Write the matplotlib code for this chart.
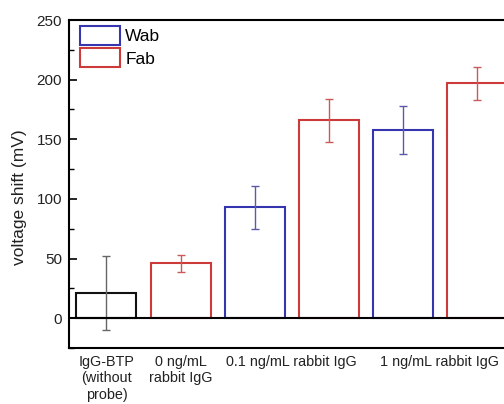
import matplotlib
matplotlib.use("Agg")
import matplotlib.pyplot as plt
from matplotlib.patches import Patch
from matplotlib.ticker import MultipleLocator

plt.rcParams['font.family'] = ['Liberation Sans', 'DejaVu Sans']

# data
bar_values = [21, 46, 93, 166, 158, 197]
bar_errors = [31, 7, 18, 18, 20, 14]
bar_kinds = ['control', 'Fab', 'Wab', 'Fab', 'Wab', 'Fab']
group_labels = ['IgG-BTP\n(without\nprobe)', '0 ng/mL\nrabbit IgG',
                '0.1 ng/mL rabbit IgG', '1 ng/mL rabbit IgG']
group_positions = [0, 1, 2.5, 4.5]
legend_labels = ['Wab', 'Fab']

edge_colors = {'control': '#111111', 'Wab': '#3535b0', 'Fab': '#cc3a3a'}
err_colors = {'control': '#666666', 'Wab': '#5a5aa8', 'Fab': '#c85a5a'}

fig = plt.figure(figsize=(5.04, 4.04), dpi=100)
ax = fig.add_axes([69/504, 56/404, (514-69)/504, (348-20)/404])

x = list(range(len(bar_values)))
for xi, v, e, k in zip(x, bar_values, bar_errors, bar_kinds):
    ax.bar(xi, v, width=0.81, facecolor='white', edgecolor=edge_colors[k],
           linewidth=1.5, zorder=2)
    ax.errorbar(xi, v, yerr=e, fmt='none', ecolor=err_colors[k],
                elinewidth=1.0, capsize=2.7, capthick=1.0, zorder=3)

ax.axhline(0, color='black', linewidth=1.5, zorder=4)
ax.set_xlim(-0.506, 5.5)
ax.set_ylim(-25, 250)

ax.set_xticks(group_positions)
ax.set_xticklabels(group_labels, fontsize=10.4, color='#222222', linespacing=1.22)
ax.tick_params(axis='x', length=0, pad=5)

ax.yaxis.set_major_locator(MultipleLocator(50))
ax.yaxis.set_minor_locator(MultipleLocator(25))
ax.tick_params(axis='y', which='major', direction='in', length=6, width=1.2,
               labelsize=11, pad=5, labelcolor='#222222')
ax.tick_params(axis='y', which='minor', direction='in', length=3.5, width=1.0)
ax.set_ylabel('voltage shift (mV)', fontsize=12.5, color='#222222')
ax.yaxis.set_label_coords(-0.094, 0.46)

for s in ax.spines.values():
    s.set_linewidth(1.5)
    s.set_color('black')

handles = [Patch(facecolor='white', edgecolor=edge_colors['Wab'], linewidth=1.5),
           Patch(facecolor='white', edgecolor=edge_colors['Fab'], linewidth=1.5)]
ax.legend(handles, legend_labels, loc='upper left', bbox_to_anchor=(0.0247, 0.982),
          frameon=False, fontsize=12.5, handlelength=2.3, handleheight=1.3,
          labelspacing=0.2, handletextpad=0.3, borderaxespad=0, borderpad=0)

fig.savefig('out.png', dpi=100)
